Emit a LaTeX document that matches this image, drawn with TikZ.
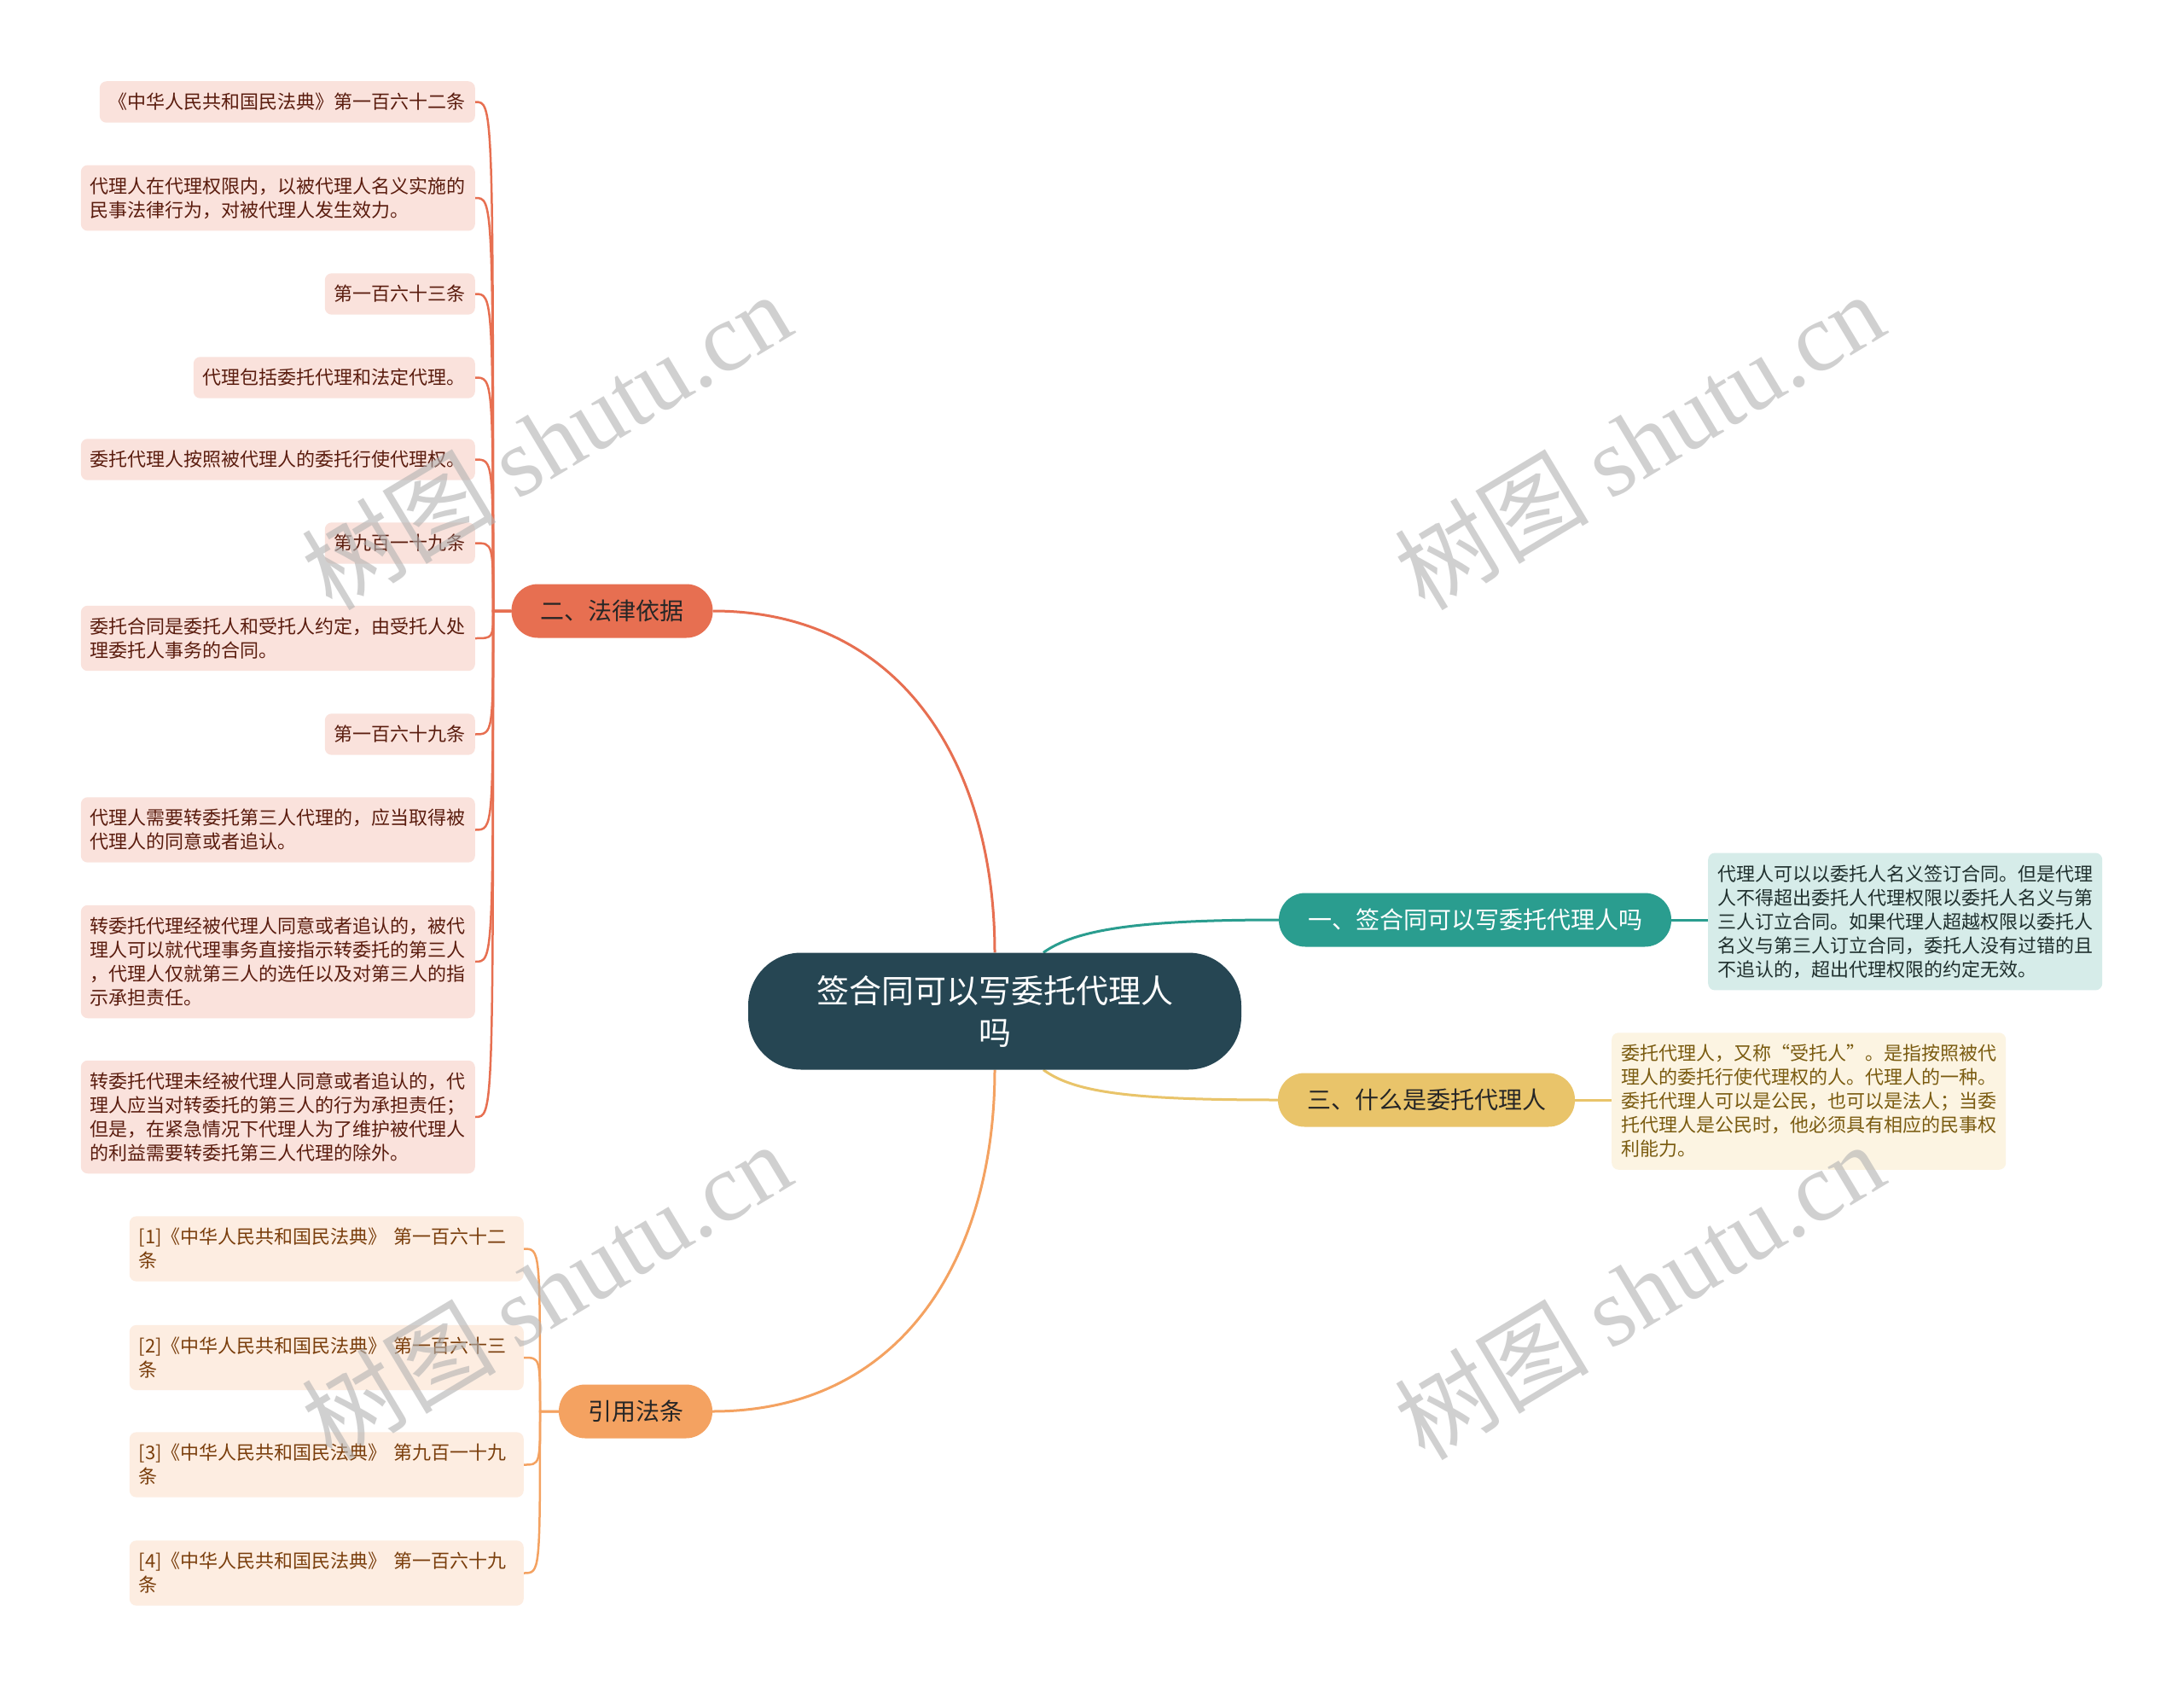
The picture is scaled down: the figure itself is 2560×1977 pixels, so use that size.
\documentclass[tikz,border=0pt]{standalone}
\usepackage{fontspec}
\setmainfont{Noto Sans CJK SC}
\newfontfamily\wmserif{Liberation Serif}
\usetikzlibrary{calc}
\pgfdeclarelayer{bg}
\pgfsetlayers{bg,main}
\definecolor{cCenter}{HTML}{264653}
\definecolor{cTeal}{HTML}{2A9D8F}
\definecolor{cGold}{HTML}{E9C46A}
\definecolor{cOrange}{HTML}{F4A261}
\definecolor{cCoral}{HTML}{E76F51}
\definecolor{bgCoral}{HTML}{FAE2DC}
\definecolor{txCoral}{HTML}{5A1C0E}
\definecolor{bgTeal}{HTML}{D6ECE9}
\definecolor{txTeal}{HTML}{1F2F2D}
\definecolor{bgGold}{HTML}{FCF4E2}
\definecolor{txGold}{HTML}{7A5B10}
\definecolor{bgOrange}{HTML}{FDEDE1}
\definecolor{txOrange}{HTML}{7A3E0C}
\tikzset{
  leafbox/.style={rounded corners=8pt, inner xsep=11pt, inner ysep=14pt, align=left,
    font=\fontsize{22}{28}\selectfont},
  leafC/.style={leafbox, fill=bgCoral, text=txCoral, anchor=east},
  leafO/.style={leafbox, fill=bgOrange, text=txOrange, anchor=east, text width=440pt},
  topic/.style={rounded corners=31pt, minimum height=63pt, inner xsep=34pt,
    font=\fontsize{28}{34}\selectfont},
  lnC/.style={draw=cCoral, line width=2.5pt},
  lnO/.style={draw=cOrange, line width=2.5pt},
  wm/.style={rotate=31, text=black!30, text opacity=0.6, font=\fontsize{114}{114}\selectfont}
}
\begin{document}
\begin{tikzpicture}[x=1pt, y=-1pt]
\useasboundingbox (0,0) rectangle (2560,1977);

% center
\node[fill=cCenter, text=white, rounded corners=62pt, minimum width=578pt, minimum height=137pt,
  align=center, font=\fontsize{38}{49}\selectfont] (c) at (1166,1185) {签合同可以写委托代理人\\吗};

% level 1
\node[topic, fill=cTeal, text=white] (n1) at (1729,1078) {一、签合同可以写委托代理人吗};
\node[topic, fill=cCoral, text=black!85] (n2) at (717.5,716) {二、法律依据};
\node[topic, fill=cGold, text=black!85] (n3) at (1672,1289) {三、什么是委托代理人};
\node[topic, fill=cOrange, text=black!85] (n4) at (745,1654) {引用法条};

% right details
\node[leafbox, fill=bgTeal, text=txTeal, anchor=west] (d1) at (2002,1080) {代理人可以以委托人名义签订合同。但是代理\\人不得超出委托人代理权限以委托人名义与第\\三人订立合同。如果代理人超越权限以委托人\\名义与第三人订立合同，委托人没有过错的且\\不追认的，超出代理权限的约定无效。};
\node[leafbox, fill=bgGold, text=txGold, anchor=west] (d3) at (1889,1290.5) {委托代理人，又称“受托人”。是指按照被代\\理人的委托行使代理权的人。代理人的一种。\\委托代理人可以是公民，也可以是法人；当委\\托代理人是公民时，他必须具有相应的民事权\\利能力。};

% left leaves (二)
\node[leafC] (a1) at (557,119.5) {《中华人民共和国民法典》第一百六十二条};
\node[leafC] (a2) at (557,232) {代理人在代理权限内，以被代理人名义实施的\\民事法律行为，对被代理人发生效力。};
\node[leafC] (a3) at (557,344.5) {第一百六十三条};
\node[leafC] (a4) at (557,442.5) {代理包括委托代理和法定代理。};
\node[leafC] (a5) at (557,538.5) {委托代理人按照被代理人的委托行使代理权。};
\node[leafC] (a6) at (557,636.5) {第九百一十九条};
\node[leafC] (a7) at (557,748) {委托合同是委托人和受托人约定，由受托人处\\理委托人事务的合同。};
\node[leafC] (a8) at (557,860.5) {第一百六十九条};
\node[leafC] (a9) at (557,972.5) {代理人需要转委托第三人代理的，应当取得被\\代理人的同意或者追认。};
\node[leafC] (a10) at (557,1127) {转委托代理经被代理人同意或者追认的，被代\\理人可以就代理事务直接指示转委托的第三人\\，代理人仅就第三人的选任以及对第三人的指\\示承担责任。};
\node[leafC] (a11) at (557,1309) {转委托代理未经被代理人同意或者追认的，代\\理人应当对转委托的第三人的行为承担责任；\\但是，在紧急情况下代理人为了维护被代理人\\的利益需要转委托第三人代理的除外。};

% reference leaves
\node[leafO] (b1) at (614,1463.5) {[1]《中华人民共和国民法典》 第一百六十二\\条};
\node[leafO] (b2) at (614,1591) {[2]《中华人民共和国民法典》 第一百六十三\\条};
\node[leafO] (b3) at (614,1716.5) {[3]《中华人民共和国民法典》 第九百一十九\\条};
\node[leafO] (b4) at (614,1843.5) {[4]《中华人民共和国民法典》 第一百六十九\\条};

\coordinate (s2) at (578,716);
\coordinate (s4) at (633,1654);

\begin{pgfonlayer}{bg}
\fill[white] (0,0) rectangle (2560,1977);
\draw[draw=cCoral, line width=3pt] (c.north) .. controls (1166,900) and (1060,716) .. (n2.east);
\draw[draw=cOrange, line width=3pt] (c.south) .. controls (1166,1470) and (1060,1654) .. (n4.east);
\draw[draw=cTeal, line width=3pt] ($(c.north)+(57,0)$) .. controls (1260,1090) and (1330,1078) .. (n1.west);
\draw[draw=cGold, line width=3pt] ($(c.south)+(57,0)$) .. controls (1260,1281) and (1330,1289) .. (n3.west);
\draw[draw=cTeal, line width=3pt] (n1.east) -- (n1.east -| d1.west);
\draw[draw=cGold, line width=3pt] (n3.east) -- (n3.east -| d3.west);
\foreach \k in {a1,a2,a3,a4,a5,a6,a7,a8,a9,a10,a11}
  \draw[lnC] (n2.west) -- (s2) .. controls (s2 |- \k.east) .. (\k.east);
\foreach \k in {b1,b2,b3,b4}
  \draw[lnO] (n4.west) -- (s4) .. controls (s4 |- \k.east) .. (\k.east);
\end{pgfonlayer}

% watermarks
\node[wm] (w1) at (640,516) {树图 {\wmserif shutu.cn}};
\node[wm] (w2) at (1921,516) {树图 {\wmserif shutu.cn}};
\node[wm] (w3) at (640,1512) {树图 {\wmserif shutu.cn}};
\node[wm] (w4) at (1921,1512) {树图 {\wmserif shutu.cn}};
\end{tikzpicture}
\end{document}
